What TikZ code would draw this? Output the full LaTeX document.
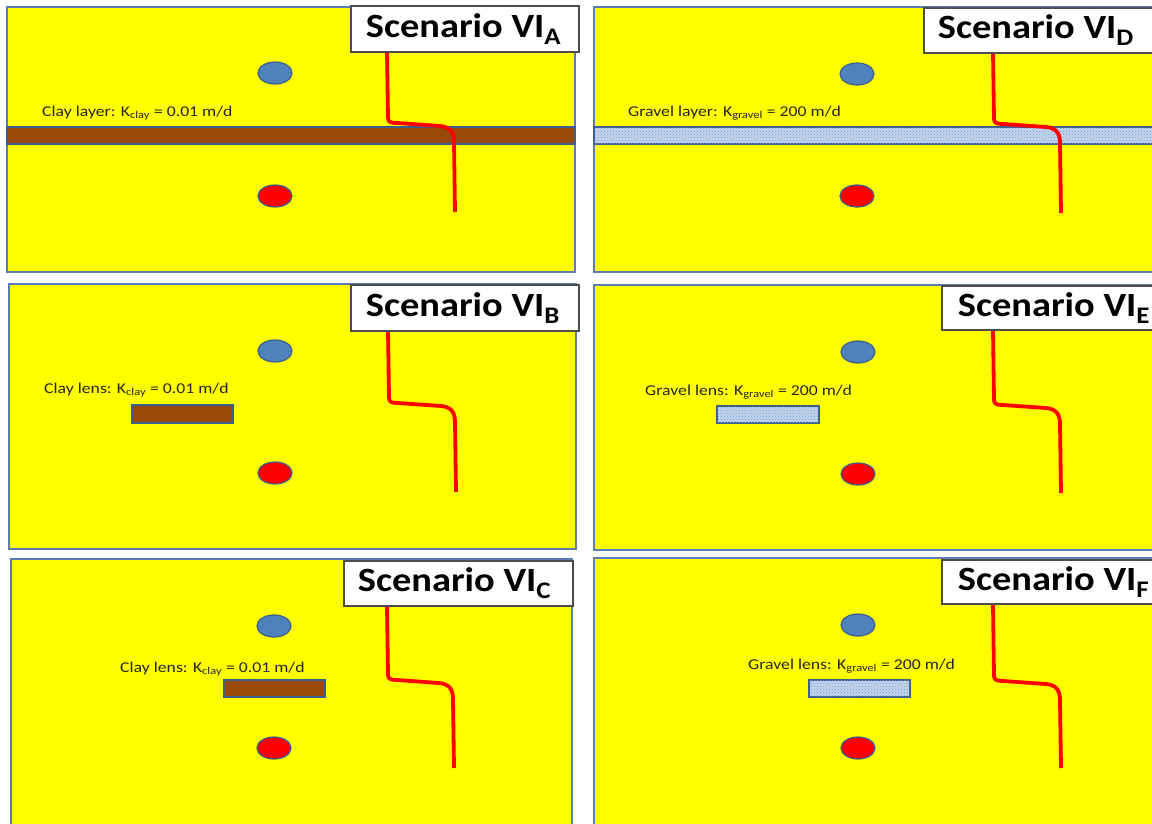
\documentclass[tikz,border=0pt]{standalone}
\usepackage{fontspec}
\setmainfont{Carlito}
\newfontfamily\scfont[FakeStretch=1.13]{Carlito}
\newfontfamily\lblfont[FakeStretch=1.18]{Carlito}
\usetikzlibrary{shapes.geometric,patterns}
\definecolor{yel}{HTML}{FFFF00}
\definecolor{pborder}{HTML}{5B7DB1}
\definecolor{wellblue}{HTML}{4F81BD}
\definecolor{wellline}{HTML}{3A5F8F}
\definecolor{claycol}{HTML}{984807}
\definecolor{gravelcol}{HTML}{C2D5EE}
\definecolor{gdots}{HTML}{7E9CC6}
\definecolor{txt}{HTML}{262626}
\newcommand\drawtrace[5]{\draw[trace] (#1,#2) -- ({#1+1},#3) .. controls ({#1+1},{#3+4}) and ({#1+4},{#3+5}) .. ({#1+10},{#3+5}) -- ({#4-15},{#3+8}) .. controls ({#4-5},{#3+9}) and ({#4-1},{#3+14}) .. ({#4-1},{#3+24}) -- (#4,#5);}
\newcommand\sctext[3]{\hbox to #1pt{\hspace*{#2pt}#3\hfil}}
\begin{document}
\begin{tikzpicture}[x=1pt,y=-1pt,
  panel/.style={draw=pborder,line width=2pt,fill=yel},
  scbox/.style={draw=black!70,line width=1.8pt,fill=white,anchor=north west,inner sep=0pt,font=\fontsize{34}{36}\selectfont\scfont\bfseries,text=black},
  lbl/.style={anchor=west,inner sep=0pt,font=\fontsize{15}{17}\selectfont\lblfont,text=txt},
  clay/.style={rectangle,fill=claycol,draw=wellline,line width=1.3pt,anchor=north west,inner sep=0pt,outer sep=0pt},
  gravel/.style={rectangle,fill=gravelcol,draw=wellline,line width=1.3pt,anchor=north west,inner sep=0pt,outer sep=0pt,postaction={pattern=crosshatch dots,pattern color=gdots}},
  bwell/.style={ellipse,fill=wellblue,draw=wellline,line width=1.2pt,minimum width=34pt,minimum height=22pt,inner sep=0pt},
  rwell/.style={ellipse,fill=red,draw=wellline,line width=1.2pt,minimum width=34pt,minimum height=22pt,inner sep=0pt},
  trace/.style={draw=red,line width=3.8pt,line join=round}
]
\useasboundingbox (0,0) rectangle (1152,823);
\clip (0,0) rectangle (1152,823);
\fill[white] (0,0) rectangle (1152,823);

% ---------- Panel A ----------
\draw[panel] (7,7) rectangle (575,272);
\node[clay,minimum width=568pt,minimum height=17pt] (layA) at (7,127) {};
\node[lbl] (tA) at (42,113) {Clay layer: K\textsubscript{clay} = 0.01 m/d};
\node[bwell] (bA) at (275,73) {};
\node[rwell] (rA) at (275,196) {};
\drawtrace{387}{50}{118}{455}{212}
\node[scbox,minimum height=46pt] (sA) at (350,5) {\sctext{228}{15}{Scenario VI\textsubscript{A}}};

% ---------- Panel D ----------
\draw[panel] (594,7) rectangle (1160,272);
\node[gravel,minimum width=566pt,minimum height=17pt] (layD) at (594,127) {};
\node[lbl] (tD) at (628,113) {Gravel layer: K\textsubscript{gravel} = 200 m/d};
\node[bwell] (bD) at (857,74) {};
\node[rwell] (rD) at (857,196) {};
\drawtrace{993}{52}{119}{1061}{213}
\node[scbox,minimum height=45pt] (sD) at (923,7) {\sctext{240}{14}{Scenario VI\textsubscript{D}}};

% ---------- Panel B ----------
\draw[panel] (9,284) rectangle (576,549);
\node[clay,minimum width=101pt,minimum height=18pt] (lenB) at (132,405) {};
\node[lbl] (tB) at (44,390) {Clay lens: K\textsubscript{clay} = 0.01 m/d};
\node[bwell] (bB) at (275,351) {};
\node[rwell] (rB) at (275,473) {};
\drawtrace{388}{330}{398}{456}{492}
\node[scbox,minimum height=46pt] (sB) at (350,284) {\sctext{228}{15}{Scenario VI\textsubscript{B}}};

% ---------- Panel E ----------
\draw[panel] (594,285) rectangle (1160,550);
\node[gravel,minimum width=102pt,minimum height=17pt] (lenE) at (717,406) {};
\node[lbl] (tE) at (645,392) {Gravel lens: K\textsubscript{gravel} = 200 m/d};
\node[bwell] (bE) at (858,352) {};
\node[rwell] (rE) at (858,474) {};
\drawtrace{993}{329}{400}{1061}{493}
\node[scbox,minimum height=44pt] (sE) at (941,285) {\sctext{222}{16}{Scenario VI\textsubscript{E}}};

% ---------- Panel C ----------
\draw[panel] (11,559) rectangle (572,830);
\node[clay,minimum width=101pt,minimum height=17pt] (lenC) at (224,680) {};
\node[lbl] (tC) at (120,669) {Clay lens: K\textsubscript{clay} = 0.01 m/d};
\node[bwell] (bC) at (274,626) {};
\node[rwell] (rC) at (274,748) {};
\drawtrace{387}{606}{675}{454}{768}
\node[scbox,minimum height=45pt] (sC) at (343,560) {\sctext{229}{14}{Scenario VI\textsubscript{C}}};

% ---------- Panel F ----------
\draw[panel] (594,558) rectangle (1160,830);
\node[gravel,minimum width=101pt,minimum height=17pt] (lenF) at (809,680) {};
\node[lbl] (tF) at (748,666) {Gravel lens: K\textsubscript{gravel} = 200 m/d};
\node[bwell] (bF) at (858,625) {};
\node[rwell] (rF) at (858,748) {};
\drawtrace{993}{604}{676}{1061}{768}
\node[scbox,minimum height=44pt] (sF) at (941,559) {\sctext{222}{16}{Scenario VI\textsubscript{F}}};
\end{tikzpicture}
\end{document}
